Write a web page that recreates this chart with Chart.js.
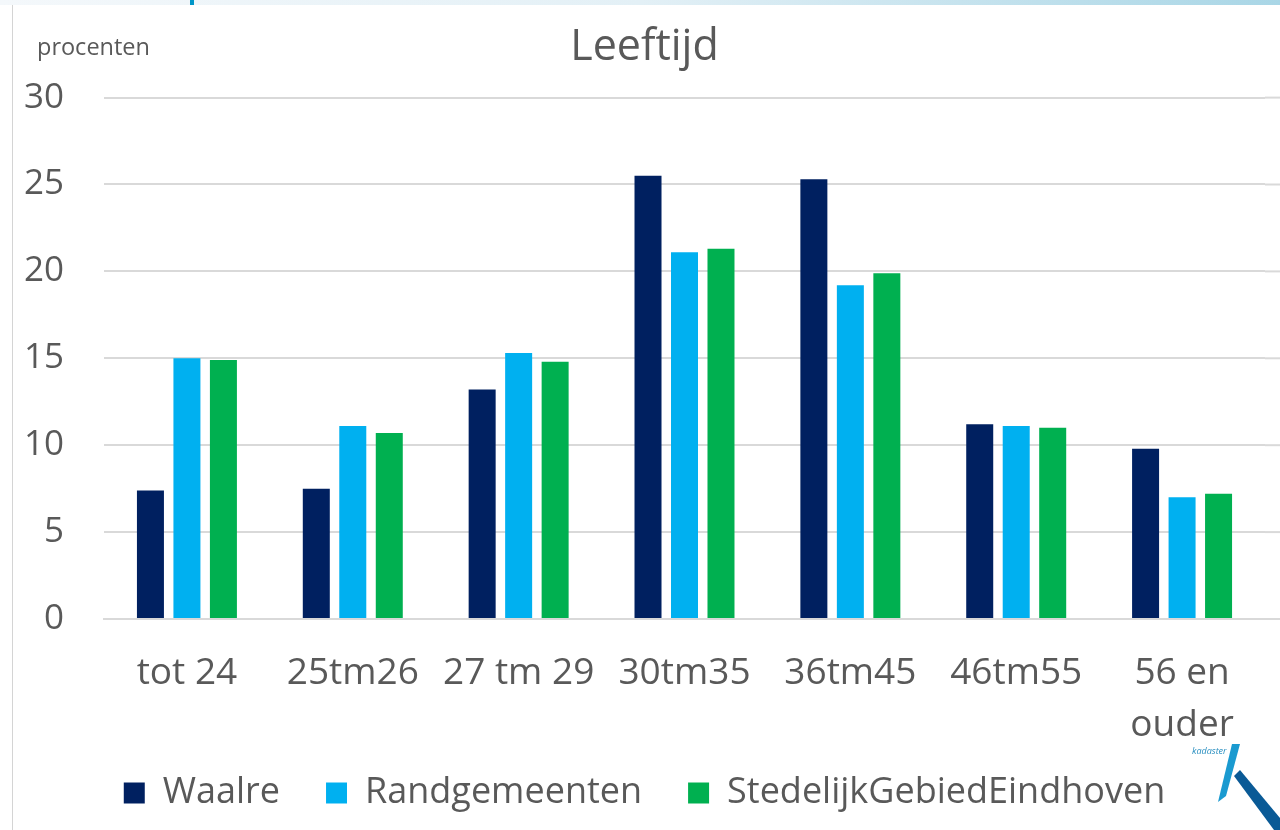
<!DOCTYPE html>
<html>
<head>
<meta charset="utf-8">
<script src="https://cdn.jsdelivr.net/npm/chart.js@4.4.1/dist/chart.umd.min.js"></script>
<style>
  html, body { margin: 0; padding: 0; background: #fff; }
  .wrap { position: relative; width: 1280px; height: 830px; overflow: hidden; }
  .topstrip { position: absolute; left: 0; top: 0; width: 1280px; height: 5px;
    background: linear-gradient(to right, #f4f8fb 0%, #e3f0f6 50%, #a9d6e6 100%); }
  .topmark { position: absolute; left: 190px; top: 0; width: 4px; height: 5px; background: #0096c8; }
  .leftline { position: absolute; left: 12px; top: 5px; width: 1px; height: 825px; background: #d4d4d4; }
  .logo { position: absolute; left: 1188px; top: 744px; width: 92px; height: 86px; }
  canvas { position: absolute; left: 0; top: 0; }
</style>
</head>
<body>
<div class="wrap">
  <div class="topstrip"></div>
  <div class="topmark"></div>
  <div class="leftline"></div>
  <canvas id="myChart" width="1280" height="830"></canvas>
  <svg class="logo" viewBox="0 0 92 86">
    <text x="4" y="10" font-family="Open Sans" font-style="italic" font-size="9" fill="#2a8fc0">kadaster</text>
    <polygon points="44,0 52,0 38,52 30,58" fill="#1a9ad0"/>
    <polygon points="46,32 52,26 92,74 92,86 86,86" fill="#0a5a96"/>
  </svg>
</div>
<script>
/*************************data*************************************/
const categories = ['tot 24', '25tm26', '27 tm 29', '30tm35', '36tm45', '46tm55', ['56 en', 'ouder']];
const waalre = [7.4, 7.5, 13.2, 25.5, 25.3, 11.2, 9.8];
const randgemeenten = [15.0, 11.1, 15.3, 21.1, 19.2, 11.1, 7.0];
const stedelijk = [14.9, 10.7, 14.8, 21.3, 19.9, 11.0, 7.2];
const yTicks = [0, 5, 10, 15, 20, 25, 30];

const grey = '#595959';
const gridColor = '#d9d9d9';
const font = 'Open Sans';

// petit label "procenten" en haut a gauche + grille prolongee jusqu'au bord droit
const extras = {
  id: 'extras',
  beforeDatasetsDraw(chart) {
    const c = chart.ctx;
    const y = chart.scales.y;
    c.save();
    c.strokeStyle = gridColor;
    c.lineWidth = 2;
    yTicks.forEach(v => {
      const py = y.getPixelForValue(v);
      c.beginPath();
      c.moveTo(chart.chartArea.right, py);
      c.lineTo(chart.width, py);
      c.stroke();
    });
    c.restore();
  },
  afterDraw(chart) {
    const c = chart.ctx;
    c.save();
    c.font = '23.5px "' + font + '"';
    c.fillStyle = grey;
    c.textAlign = 'left';
    c.textBaseline = 'middle';
    c.fillText('procenten', 37, 48);
    c.restore();
  }
};

/*************************chart*************************************/
const ctx = document.getElementById('myChart');
const myChart = new Chart(ctx, {
  type: 'bar',
  data: {
    labels: categories,
    datasets: [{
      label: 'Waalre',
      data: waalre,
      backgroundColor: '#002060'
    },
    {
      label: 'Randgemeenten',
      data: randgemeenten,
      backgroundColor: '#00B0F0'
    },
    {
      label: 'StedelijkGebiedEindhoven',
      data: stedelijk,
      backgroundColor: '#00B050'
    }]
  },
  options: {
    responsive: false,
    animation: false,
    layout: {
      padding: { left: 24, right: 15, top: 0, bottom: 9 }
    },
    datasets: {
      bar: { categoryPercentage: 0.66, barPercentage: 0.74 }
    },
    plugins: {
      title: {
        display: true,
        text: 'Leeftijd',
        color: grey,
        font: { family: font, size: 43, weight: 'normal', lineHeight: 1.2 },
        padding: { top: 22, bottom: 24 }
      },
      legend: {
        position: 'bottom',
        labels: {
          color: grey,
          font: { family: font, size: 36 },
          boxWidth: 21,
          boxHeight: 21,
          padding: 46
        }
      },
      tooltip: { enabled: false }
    },
    scales: {
      x: {
        grid: { display: false },
        border: { display: true, color: gridColor, width: 2 },
        ticks: {
          color: grey,
          font: { family: font, size: 37, lineHeight: 1.4 },
          padding: 21,
          maxRotation: 0,
          autoSkip: false
        },
        afterFit: s => {
          s.height = 110;
          s.paddingLeft = 0;
          s.paddingRight = 0;
          s._computeLabelArea = () => undefined; // pas de clip pour "ouder"
        }
      },
      y: {
        min: 0,
        max: 30,
        afterBuildTicks: axis => { axis.ticks = yTicks.map(v => ({ value: v })); },
        grid: { color: gridColor, lineWidth: 2, drawTicks: false },
        border: { display: false },
        ticks: {
          color: grey,
          font: { family: font, size: 35 },
          padding: 40
        },
        afterFit: s => { s.width = 80; }
      }
    }
  },
  plugins: [extras]
});
</script>
</body>
</html>
